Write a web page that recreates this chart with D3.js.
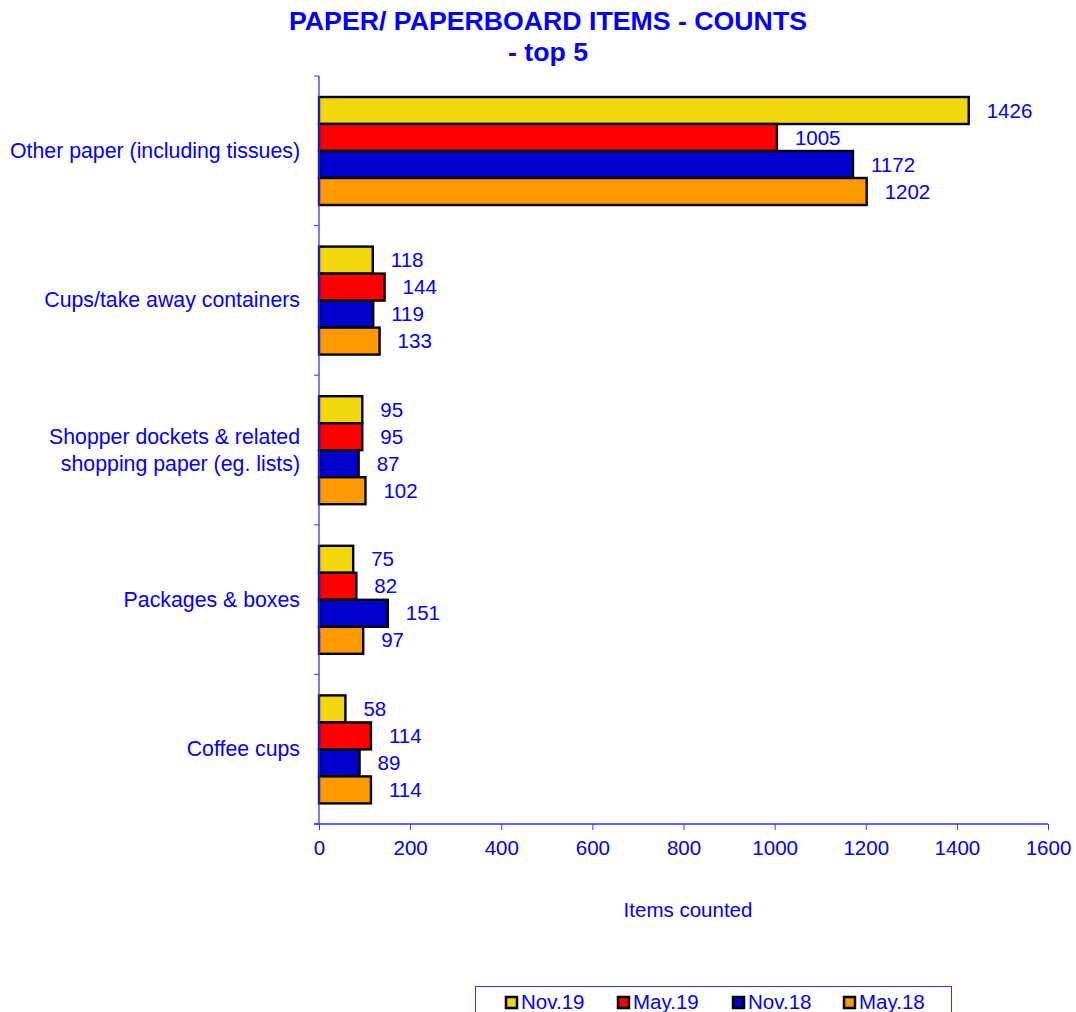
<!DOCTYPE html>
<html><head><meta charset="utf-8">
<script src="https://cdn.jsdelivr.net/npm/d3@7"></script>
<style>body{margin:0;background:#fff}svg{display:block}text{font-family:Arial,"Liberation Sans",sans-serif}</style>
</head><body><svg id="c" width="1076" height="1012"></svg>
<script>
const categories = [["Other paper (including tissues)"],["Cups/take away containers"],["Shopper dockets & related","shopping paper (eg. lists)"],["Packages & boxes"],["Coffee cups"]];
const seriesNames = ["Nov.19","May.19","Nov.18","May.18"];
const nov19 = [1426,118,95,75,58];
const may19 = [1005,144,95,82,114];
const nov18 = [1172,119,87,151,89];
const may18 = [1202,133,102,97,114];
const colors = ["#f2d70c","#ff0000","#0000cc","#ff9900"];
const xTicks = [0,200,400,600,800,1000,1200,1400,1600];
const series = [nov19,may19,nov18,may18];

const svg = d3.select("#c");
const blue = "#0000ff";
const axisBlue = "#3333ff";
const FS = 20.5;
const x = d3.scaleLinear().domain([0,1600]).range([319,1048]);
const y = d3.scaleBand().domain(d3.range(categories.length)).range([76,824]);
const inner = d3.scaleBand().domain(d3.range(4)).range([21, 21+108]);

// title
const t = svg.append("text").attr("text-anchor","middle").attr("fill",blue).attr("font-weight","bold").attr("font-size",26.7);
t.append("tspan").attr("x",548).attr("y",30).text("PAPER/ PAPERBOARD ITEMS - COUNTS");
t.append("tspan").attr("x",548).attr("y",61).text("- top 5");

// bars
categories.forEach((c,i)=>{
  series.forEach((s,j)=>{
    const y0 = y(i)+inner(j);
    svg.append("rect").attr("x",x(0)).attr("y",y0).attr("width",x(s[i])-x(0)).attr("height",inner.bandwidth())
      .attr("fill",colors[j]).attr("stroke","#000").attr("stroke-width",2.4);
    svg.append("text").attr("x",x(s[i])+18).attr("y",y0+inner.bandwidth()/2+7).attr("fill",blue).attr("font-size",FS).text(s[i]);
  });
  const lab = svg.append("text").attr("text-anchor","end").attr("fill",blue).attr("font-size",21.3);
  const cy = y(i)+y.bandwidth()/2;
  const n = c.length;
  c.forEach((line,k)=>{
    lab.append("tspan").attr("x",300).attr("y",cy+7+(k-(n-1)/2)*27).text(line);
  });
});

// y axis
const ya = svg.append("g").attr("stroke",axisBlue);
ya.append("line").attr("x1",319).attr("x2",319).attr("y1",76).attr("y2",824).attr("stroke-width",1.3);
d3.range(categories.length+1).forEach(i=>{
  const yy = i<categories.length ? y(i) : 824;
  ya.append("line").attr("x1",314).attr("x2",319).attr("y1",yy).attr("y2",yy);
});

// x axis
const xa = svg.append("g").attr("transform","translate(0,824)").call(d3.axisBottom(x).tickValues(xTicks).tickFormat(d3.format("d")).tickSize(6).tickPadding(10).tickSizeOuter(0));
xa.select(".domain").attr("stroke",axisBlue).attr("stroke-width",1.3).attr("d","M314,0H1048");
xa.selectAll(".tick line").attr("stroke",axisBlue);
xa.selectAll(".tick text").attr("fill",blue).attr("font-size",FS).attr("font-family","Arial,'Liberation Sans',sans-serif");

svg.append("text").attr("x",688).attr("y",917).attr("text-anchor","middle").attr("fill",blue).attr("font-size",FS).text("Items counted");

// legend
svg.append("rect").attr("x",475.5).attr("y",986.5).attr("width",476).attr("height",40).attr("fill","#fff").attr("stroke",axisBlue).attr("stroke-width",1);
const lx = [506,618,733,844];
seriesNames.forEach((n,j)=>{
  svg.append("rect").attr("x",lx[j]).attr("y",997).attr("width",11).attr("height",11).attr("fill",colors[j]).attr("stroke","#000").attr("stroke-width",2.5);
  svg.append("text").attr("x",lx[j]+15).attr("y",1009).attr("fill",blue).attr("font-size",FS).text(n);
});
</script></body></html>
